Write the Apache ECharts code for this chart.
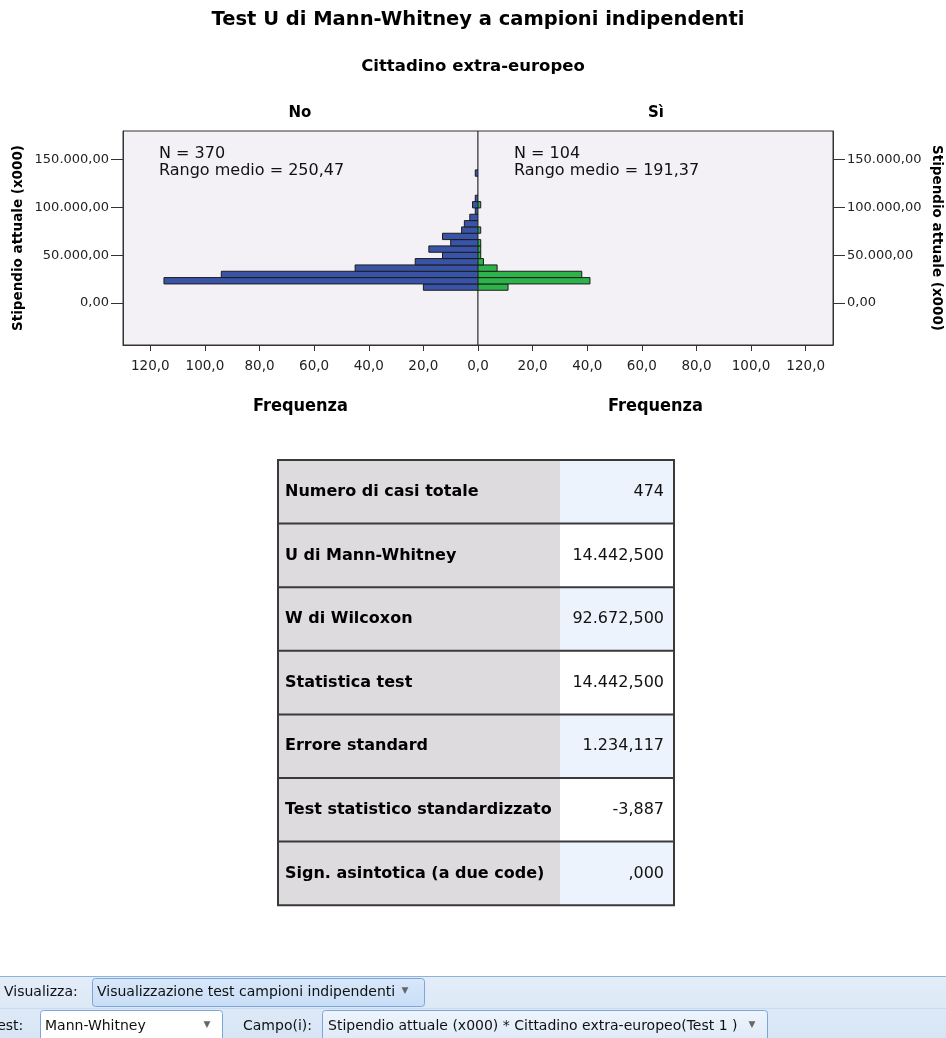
<!DOCTYPE html>
<html><head><meta charset="utf-8">
<script src="https://cdn.jsdelivr.net/npm/echarts@6/dist/echarts.min.js"></script>
<style>html,body{margin:0;padding:0;background:#fff;overflow:hidden}#chart{width:946px;height:1038px;}</style>
</head><body><div id="chart"></div>
<script>
// ---- data ----
const binEdges = [13300, 19930, 26560, 33190, 39820, 46450, 53080, 59710, 66340, 72970, 79600, 86230, 92860, 99490, 106120, 112750, 119380, 126010, 132640, 139270];
const countsNo = [20, 115, 94, 45, 23, 13, 18, 10, 13, 6, 5, 3, 1, 2, 1, 0, 0, 0, 1];
const countsSi = [11, 41, 38, 7, 2, 1, 1, 1, 0, 1, 0, 0, 0, 1, 0, 0, 0, 0, 0];
const yTicks = [0, 50000, 100000, 150000];
const xTicks = [0, 20, 40, 60, 80, 100, 120];
const groupNames = ['No', 'Sì'];
const groupN = [370, 104];
const groupRank = ['250,47', '191,37'];
const tableLabels = ['Numero di casi totale', 'U di Mann-Whitney', 'W di Wilcoxon', 'Statistica test', 'Errore standard', 'Test statistico standardizzato', 'Sign. asintotica (a due code)'];
const tableValues = ['474', '14.442,500', '92.672,500', '14.442,500', '1.234,117', '-3,887', ',000'];

const FONT = '"DejaVu Sans", sans-serif';
const COND = '"DejaVu Sans Condensed", "DejaVu Sans", sans-serif';

function fmtY(v) { return String(v).replace(/\B(?=(\d{3})+(?!\d))/g, '.') + ',00'; }
function fmtX(v) { return v.toFixed(1).replace('.', ','); }

function toData(counts) {
  return counts.map((c, i) => [binEdges[i], binEdges[i + 1], c]);
}
function makeRender(color) {
  return function (params, api) {
    const lo = api.value(0), hi = api.value(1), c = api.value(2);
    if (!c) return null;
    const p0 = api.coord([0, lo]);
    const p1 = api.coord([c, hi]);
    const x = Math.min(p0[0], p1[0]);
    return {
      type: 'rect',
      shape: { x: x, y: p1[1], width: Math.abs(p1[0] - p0[0]), height: p0[1] - p1[1] },
      style: { fill: color, stroke: '#1c1c1c', lineWidth: 1 }
    };
  };
}

const gridTop = 131, gridH = 214;
function makeX(labelValues) {
  return {
    type: 'value', min: 0, max: 130,
    axisLine: { show: true, onZero: false, lineStyle: { color: '#333', width: 1 } },
    axisTick: { show: true, length: 6, lineStyle: { color: '#333' }, customValues: xTicks },
    axisLabel: { customValues: labelValues, formatter: fmtX, margin: 14, color: '#222', fontFamily: FONT, fontSize: 13.5 },
    splitLine: { show: false },
    name: 'Frequenza', nameLocation: 'middle', nameGap: 52,
    nameTextStyle: { fontFamily: COND, fontWeight: 'bold', fontSize: 18, color: '#000' }
  };
}
const yCommon = {
  type: 'value', min: -44000, max: 180000,
  axisLine: { show: true, onZero: false, lineStyle: { color: '#333', width: 1 } },
  axisTick: { show: true, length: 12, lineStyle: { color: '#333' }, customValues: yTicks },
  axisLabel: { customValues: yTicks, formatter: fmtY, margin: 14, color: '#222', fontFamily: FONT, fontSize: 13 },
  splitLine: { show: false },
  name: 'Stipendio attuale (x000)', nameLocation: 'middle',
  nameTextStyle: { fontFamily: FONT, fontWeight: 'bold', fontSize: 13.5, color: '#000' }
};

function txt(x, y, text, font, align, fill) {
  return { type: 'text', x: x, y: y, silent: true,
    style: { text: text, font: font, fill: fill || '#000', align: align || 'left', verticalAlign: 'middle',
      textAlign: align || 'left', textVerticalAlign: 'middle' } };
}

const graphics = [];
// titles
graphics.push(txt(478, 20, 'Test U di Mann-Whitney a campioni indipendenti', 'bold 19.5px ' + FONT, 'center'));
graphics.push(txt(473, 67, 'Cittadino extra-europeo', 'bold 16.5px ' + FONT, 'center'));
graphics.push(txt(300, 113, groupNames[0], 'bold 15px ' + FONT, 'center'));
graphics.push(txt(656, 113, groupNames[1], 'bold 15px ' + FONT, 'center'));
// annotations
const annX = [159, 514];
for (let g = 0; g < 2; g++) {
  graphics.push(txt(annX[g], 153.5, 'N = ' + groupN[g], '16px ' + FONT, 'left', '#111'));
  graphics.push(txt(annX[g], 171, 'Rango medio = ' + groupRank[g], '16px ' + FONT, 'left', '#111'));
}
// table
const tX = 278, tXmid = 560, tXr = 674, tY = 460, rowH = 63.6;
const nRows = tableLabels.length;
for (let i = 0; i < nRows; i++) {
  const y = tY + i * rowH;
  graphics.push({ type: 'rect', silent: true, shape: { x: tX, y: y, width: tXmid - tX, height: rowH }, style: { fill: '#dddbdd' } });
  graphics.push({ type: 'rect', silent: true, shape: { x: tXmid, y: y, width: tXr - tXmid, height: rowH }, style: { fill: i % 2 === 0 ? '#edf3fc' : '#ffffff' } });
  graphics.push(txt(285, y + rowH / 2, tableLabels[i], 'bold 16px ' + FONT, 'left', '#000'));
  graphics.push(txt(664, y + rowH / 2, tableValues[i], '16px ' + FONT, 'right', '#111'));
  if (i > 0) graphics.push({ type: 'line', silent: true, shape: { x1: tX, y1: y, x2: tXr, y2: y }, style: { stroke: '#3a3a3a', lineWidth: 2 } });
}
graphics.push({ type: 'rect', silent: true, shape: { x: tX, y: tY, width: tXr - tX, height: rowH * nRows }, style: { fill: 'none', stroke: '#3a3a3a', lineWidth: 2 } });

// toolbar
graphics.push({ type: 'rect', silent: true, shape: { x: 0, y: 976, width: 946, height: 62 },
  style: { fill: new echarts.graphic.LinearGradient(0, 0, 0, 1, [{ offset: 0, color: '#e4edf8' }, { offset: 1, color: '#d7e5f5' }]) } });
graphics.push({ type: 'line', silent: true, shape: { x1: 0, y1: 976.5, x2: 946, y2: 976.5 }, style: { stroke: '#8db2de', lineWidth: 1 } });
graphics.push({ type: 'line', silent: true, shape: { x1: 0, y1: 1008.5, x2: 946, y2: 1008.5 }, style: { stroke: '#c9dbf0', lineWidth: 1 } });
graphics.push({ type: 'rect', silent: true, shape: { x: 92.5, y: 978.5, width: 332, height: 28, r: 3 },
  style: { fill: new echarts.graphic.LinearGradient(0, 0, 0, 1, [{ offset: 0, color: '#d9e8fa' }, { offset: 1, color: '#c8ddf6' }]), stroke: '#7aa6dc', lineWidth: 1 } });
graphics.push({ type: 'rect', silent: true, shape: { x: 40.5, y: 1010.5, width: 182, height: 34, r: 3 }, style: { fill: '#ffffff', stroke: '#7aa6dc', lineWidth: 1 } });
graphics.push({ type: 'rect', silent: true, shape: { x: 322.5, y: 1010.5, width: 445, height: 34, r: 3 },
  style: { fill: new echarts.graphic.LinearGradient(0, 0, 0, 1, [{ offset: 0, color: '#eef4fc' }, { offset: 1, color: '#dde9f7' }]), stroke: '#7aa6dc', lineWidth: 1 } });
graphics.push(txt(4, 992, 'Visualizza:', '14px ' + FONT, 'left', '#111'));
graphics.push(txt(97, 992, 'Visualizzazione test campioni indipendenti', '14px ' + FONT, 'left', '#111'));
graphics.push(txt(405, 991, '▼', '9px ' + FONT, 'center', '#666'));
graphics.push(txt(-9, 1026, 'Test:', '14px ' + FONT, 'left', '#111'));
graphics.push(txt(45, 1026, 'Mann-Whitney', '14px ' + FONT, 'left', '#111'));
graphics.push(txt(207, 1025, '▼', '9px ' + FONT, 'center', '#666'));
graphics.push(txt(243, 1026, 'Campo(i):', '14px ' + FONT, 'left', '#111'));
graphics.push(txt(328, 1026, 'Stipendio attuale (x000) * Cittadino extra-europeo(Test 1 )', '14px ' + FONT, 'left', '#111'));
graphics.push(txt(752, 1025, '▼', '9px ' + FONT, 'center', '#666'));

const chart = echarts.init(document.getElementById('chart'), null, { renderer: 'canvas' });
chart.setOption({
  animation: false,
  backgroundColor: '#ffffff',
  grid: [
    { left: 123, top: gridTop, width: 355, height: gridH, show: true, backgroundColor: '#f3f1f5', borderColor: '#333', borderWidth: 1 },
    { left: 478, top: gridTop, width: 355, height: gridH, show: true, backgroundColor: '#f3f1f5', borderColor: '#333', borderWidth: 1 }
  ],
  xAxis: [
    Object.assign(makeX(xTicks), { gridIndex: 0, inverse: true }),
    Object.assign(makeX(xTicks.slice(1)), { gridIndex: 1 })
  ],
  yAxis: [
    Object.assign({}, yCommon, { gridIndex: 0, position: 'left', nameRotate: 90, nameGap: 98 }),
    Object.assign({}, yCommon, { gridIndex: 1, position: 'right', nameRotate: -90, nameGap: 96 })
  ],
  series: [
    { type: 'custom', name: groupNames[0], xAxisIndex: 0, yAxisIndex: 0, renderItem: makeRender('#3953a6'),
      encode: { x: 2, y: [0, 1] }, data: toData(countsNo), clip: true },
    { type: 'custom', name: groupNames[1], xAxisIndex: 1, yAxisIndex: 1, renderItem: makeRender('#2db34a'),
      encode: { x: 2, y: [0, 1] }, data: toData(countsSi), clip: true }
  ],
  graphic: graphics
});
</script>
</body></html>
